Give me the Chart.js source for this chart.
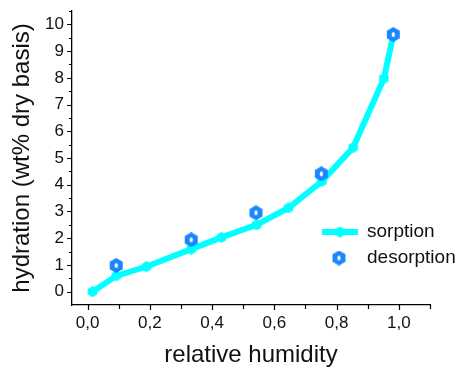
<!DOCTYPE html>
<html>
<head>
<meta charset="utf-8">
<script src="https://cdn.jsdelivr.net/npm/chart.js@4.4.1/dist/chart.umd.min.js"></script>
<style>
  html, body { margin: 0; padding: 0; background: #ffffff; }
  #wrap { width: 465px; height: 367px; position: relative; }
</style>
</head>
<body>
<div id="wrap"><canvas id="c" width="465" height="367"></canvas></div>
<script>
// ---- data ----
const sorptionX = [0.016, 0.092, 0.19, 0.333, 0.43, 0.543, 0.645, 0.753, 0.853, 0.952, 0.982];
const sorptionY = [0.0, 0.59, 0.94, 1.59, 2.03, 2.50, 3.13, 4.13, 5.39, 7.98, 9.60];
const desorptionX = [0.092, 0.333, 0.541, 0.751, 0.982];
const desorptionY = [0.98, 1.94, 2.95, 4.41, 9.62];
const xMajorTicks = [0.0, 0.2, 0.4, 0.6, 0.8, 1.0];
const xMinorTicks = [0.1, 0.3, 0.5, 0.7, 0.9, 1.1];
const yMajorTicks = [0, 1, 2, 3, 4, 5, 6, 7, 8, 9, 10];
const yMinorTicks = [0.5, 1.5, 2.5, 3.5, 4.5, 5.5, 6.5, 7.5, 8.5, 9.5, 10.5];
const seriesNames = ['sorption', 'desorption'];

const CYAN = '#00FFFF';
const BLUE = '#1A86FF';

function hexagonCanvas(size, fill, withHole) {
  const c = document.createElement('canvas');
  c.width = size; c.height = size;
  const g = c.getContext('2d');
  const r = size / 2, cx = size / 2, cy = size / 2;
  g.beginPath();
  for (let i = 0; i < 6; i++) {
    const a = -Math.PI / 2 + i * Math.PI / 3;
    const px = cx + r * Math.cos(a);
    const py = cy + r * Math.sin(a);
    if (i === 0) g.moveTo(px, py); else g.lineTo(px, py);
  }
  g.closePath();
  g.fillStyle = fill;
  g.fill();
  if (withHole) {
    g.beginPath();
    g.ellipse(cx, cy, 1.6, 2.6, 0, 0, Math.PI * 2);
    g.fillStyle = '#ffffff';
    g.fill();
  }
  return c;
}
const sorpMarker = hexagonCanvas(11, CYAN, false);
const desMarker = hexagonCanvas(15, BLUE, true);

const toPts = (xs, ys) => xs.map((v, i) => ({x: v, y: ys[i]}));

const tickPlugin = {
  id: 'manualTicks',
  afterDraw(chart) {
    const ctx = chart.ctx;
    const xs = chart.scales.x, ys = chart.scales.y;
    ctx.save();
    ctx.strokeStyle = '#000';
    ctx.lineWidth = 1.2;
    const x0 = xs.left, yb = ys.bottom;
    ctx.beginPath();
    yMajorTicks.forEach(v => { const p = Math.round(ys.getPixelForValue(v)) + 0.5; ctx.moveTo(x0 - 5, p); ctx.lineTo(x0, p); });
    yMinorTicks.forEach(v => { const p = Math.round(ys.getPixelForValue(v)) + 0.5; ctx.moveTo(x0 - 3, p); ctx.lineTo(x0, p); });
    xMajorTicks.forEach(v => { const p = Math.round(xs.getPixelForValue(v)) + 0.5; ctx.moveTo(p, yb); ctx.lineTo(p, yb + 5); });
    xMinorTicks.forEach(v => { const p = Math.round(xs.getPixelForValue(v)) + 0.5; ctx.moveTo(p, yb); ctx.lineTo(p, yb + 4); });
    ctx.stroke();

    // legend
    const lx = 322, ly = 232;
    ctx.strokeStyle = CYAN;
    ctx.lineWidth = 6;
    ctx.beginPath(); ctx.moveTo(lx, ly); ctx.lineTo(lx + 36, ly); ctx.stroke();
    ctx.drawImage(sorpMarker, lx + 18 - 5.5, ly - 5.5);
    ctx.drawImage(desMarker, 339 - 7.5, 258 - 7.5);
    ctx.fillStyle = '#111';
    ctx.font = '19px "Liberation Sans", Arial, sans-serif';
    ctx.textBaseline = 'middle';
    ctx.textAlign = 'left';
    ctx.fillText(seriesNames[0], 367, 232);
    ctx.fillText(seriesNames[1], 367, 258);
    ctx.restore();
  }
};

new Chart(document.getElementById('c'), {
  type: 'scatter',
  data: {
    datasets: [
      {
        label: seriesNames[0],
        data: toPts(sorptionX, sorptionY),
        showLine: true,
        borderColor: CYAN,
        backgroundColor: CYAN,
        borderWidth: 6,
        pointStyle: sorpMarker,
        pointRadius: 5,
        order: 2
      },
      {
        label: seriesNames[1],
        data: toPts(desorptionX, desorptionY),
        showLine: false,
        borderColor: BLUE,
        backgroundColor: BLUE,
        pointStyle: desMarker,
        pointRadius: 7,
        order: 1
      }
    ]
  },
  plugins: [tickPlugin],
  options: {
    responsive: false,
    animation: false,
    devicePixelRatio: 1,
    layout: { padding: { left: 0, right: 35, top: 11, bottom: 0 } },
    plugins: { legend: { display: false }, tooltip: { enabled: false } },
    scales: {
      x: {
        type: 'linear',
        min: -0.05, max: 1.1,
        afterBuildTicks: s => { s.ticks = xMajorTicks.map(v => ({value: v})); },
        afterFit: s => { s.height = 62; s.paddingLeft = 0; s.paddingRight = 0; },
        grid: { display: true, drawOnChartArea: false, drawTicks: false },
        border: { display: true, color: '#000', width: 1.3 },
        ticks: {
          padding: 8,
          color: '#111',
          font: { family: '"Liberation Sans", Arial, sans-serif', size: 17 },
          callback: v => v.toFixed(1).replace('.', ',')
        },
        title: {
          display: true, text: 'relative humidity', color: '#111',
          font: { family: '"Liberation Sans", Arial, sans-serif', size: 24, lineHeight: 1 },
          padding: 0
        }
      },
      y: {
        type: 'linear',
        min: -0.5, max: 10.5,
        afterBuildTicks: s => { s.ticks = yMajorTicks.map(v => ({value: v})); },
        afterFit: s => { s.width = 72; s.paddingTop = 0; s.paddingBottom = 0; },
        grid: { display: true, drawOnChartArea: false, drawTicks: false },
        border: { display: true, color: '#000', width: 1.3 },
        ticks: {
          padding: 8,
          color: '#111',
          font: { family: '"Liberation Sans", Arial, sans-serif', size: 17 },
          callback: v => String(v)
        },
        title: {
          display: true, text: 'hydration (wt% dry basis)', color: '#111',
          font: { family: '"Liberation Sans", Arial, sans-serif', size: 24, lineHeight: 1 },
          padding: 10
        }
      }
    }
  }
});
</script>
</body>
</html>
